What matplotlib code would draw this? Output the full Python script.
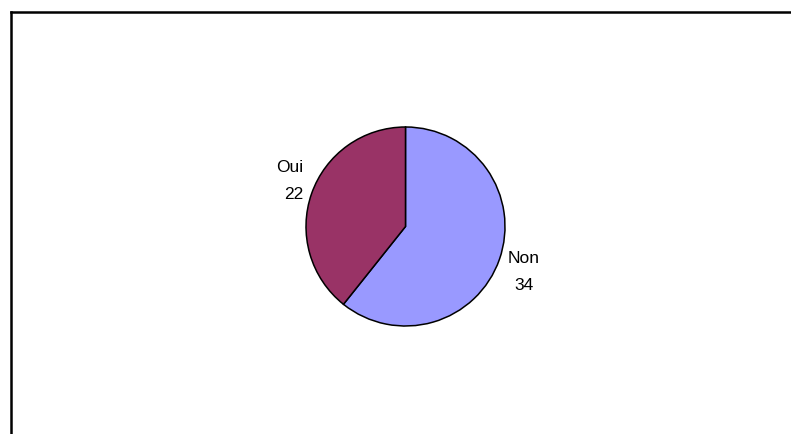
import matplotlib
matplotlib.use("Agg")
import matplotlib.pyplot as plt
from matplotlib.lines import Line2D

labels = ["Non", "Oui"]
values = [34, 22]
colors = ["#9999FF", "#993366"]

W, H = 791, 435
plt.rcParams["font.family"] = ["Liberation Sans", "DejaVu Sans"]

fig = plt.figure(figsize=(W / 100, H / 100), dpi=100)
fig.patch.set_facecolor("white")

# outer frame (left and top edges visible)
fig.add_artist(Line2D([10.5 / W, 10.5 / W], [0, 1 - 12.5 / H], transform=fig.transFigure,
                      color="black", lw=1.8, solid_capstyle="projecting"))
fig.add_artist(Line2D([10.5 / W, 1], [1 - 12.5 / H, 1 - 12.5 / H], transform=fig.transFigure,
                      color="black", lw=1.8, solid_capstyle="projecting"))

ax = fig.add_axes([0, 0, 1, 1])

cx, cy, r = 405.5, H - 227.5, 99.5
wedges, texts = ax.pie(values, labels=[f"{l}\n{v}" for l, v in zip(labels, values)],
                       colors=colors, startangle=90, counterclock=False,
                       center=(cx, cy), radius=r, frame=True,
                       wedgeprops=dict(edgecolor="black", linewidth=1.1),
                       textprops=dict(fontsize=12.5, linespacing=1.95, color="black"))
ax.set_xlim(0, W)
ax.set_ylim(0, H)
ax.axis("off")

# label placement as in the reference
texts[0].set_position((523.5, H - 272))
texts[0].set_ha("center")
texts[0].set_multialignment("center")
texts[1].set_position((303, H - 181))
texts[1].set_ha("right")
texts[1].set_multialignment("right")

fig.savefig("out.png", dpi=100, facecolor="white")
